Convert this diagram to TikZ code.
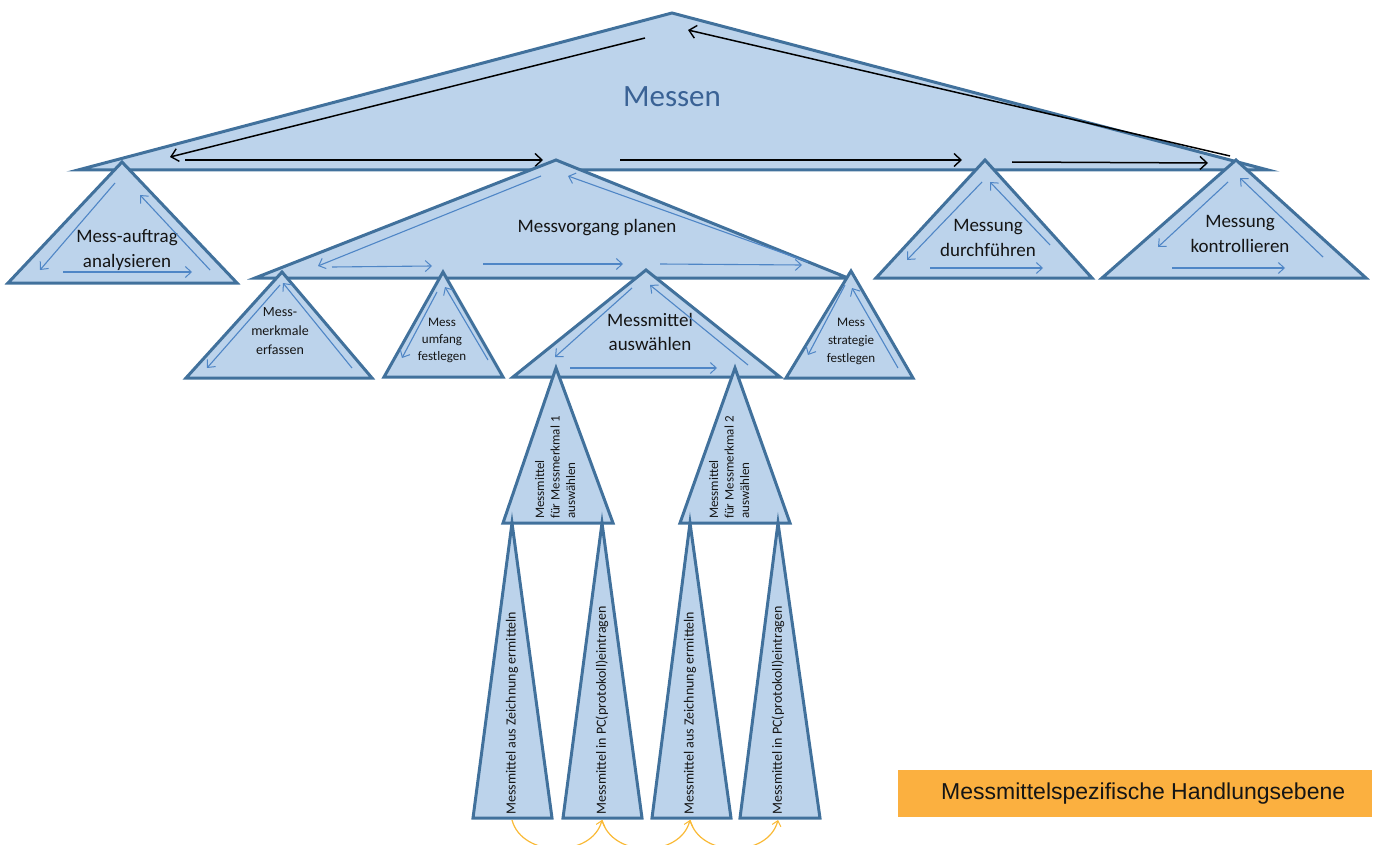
\documentclass[tikz,border=0pt]{standalone}
\usepackage{fontspec}
\setmainfont{Carlito}
\newfontfamily\boxfont{Liberation Sans}
\usetikzlibrary{arrows.meta}

\definecolor{triFill}{HTML}{BCD3EB}
\definecolor{triLine}{HTML}{41719C}
\definecolor{flowBlue}{HTML}{4F86C6}
\definecolor{levelOrange}{HTML}{FBB040}
\definecolor{linkYellow}{HTML}{F9B935}
\definecolor{titleBlue}{HTML}{3A6295}
\definecolor{labelInk}{HTML}{151515}

\begin{document}
\begin{tikzpicture}[x=1pt,y=-1pt,
  tri/.style={fill=triFill, draw=triLine, line width=3pt, line join=miter},
  mainflow/.style={draw=black, line width=1.5pt,
    -{Straight Barb[length=7pt,width=13pt,line width=1.4pt]}},
  subflow/.style={draw=flowBlue, line width=1.1pt,
    -{Straight Barb[length=6pt,width=11pt,line width=1pt]}},
  link/.style={draw=linkYellow, line width=1.2pt,
    -{Straight Barb[length=5pt,width=9pt,line width=1pt]}},
  lbl/.style={align=center, text=labelInk, inner sep=0pt},
  biglbl/.style={lbl, font=\fontsize{19}{24.5}\selectfont},
  smalllbl/.style={lbl, font=\fontsize{13}{18}\selectfont},
  vlbl/.style={rotate=90, inner sep=0pt, text=labelInk,
    font=\fontsize{14}{16}\selectfont},
]
\useasboundingbox (0,0) rectangle (1378,845);
\clip (0,0) rectangle (1378,845);

% ---------- top level: Messen ----------
\draw[tri] (672,13) -- (1268,170) -- (78,170) -- cycle;
\node[text=titleBlue, inner sep=0pt, font=\fontsize{31}{36}\selectfont] (messen) at (672,97) {Messen};
\draw[mainflow] (645,38) -- (170,157);
\draw[mainflow] (185,160) -- (543,160);
\draw[mainflow] (620,160) -- (962,160);
\draw[mainflow] (1012,162) -- (1208,163);
\draw[mainflow] (1230,156) -- (688,30);

% ---------- second level ----------
\draw[tri] (122,162) -- (237,283) -- (8,283) -- cycle;
\node[biglbl] (auftrag) at (127,250) {Mess-auftrag\\analysieren};
\draw[subflow] (115,183) -- (40,270);
\draw[subflow] (63,272) -- (192,272);
\draw[subflow] (210,270) -- (140,195);

\draw[tri] (556,160) -- (848,278) -- (255,278) -- cycle;
\node[biglbl] (planen) at (597,228) {Messvorgang planen};
\draw[subflow] (541,176) -- (318,266);
\draw[subflow] (332,267) -- (432,266);
\draw[subflow] (483,264) -- (623,264);
\draw[subflow] (660,264) -- (802,265);
\draw[subflow] (808,262) -- (568,176);

\draw[tri] (985,160) -- (1092,278) -- (876,278) -- cycle;
\node[biglbl] (durchf) at (988,238) {Messung\\durchführen};
\draw[subflow] (982,182) -- (907,260);
\draw[subflow] (930,268) -- (1043,268);
\draw[subflow] (1050,245) -- (990,182);

\draw[tri] (1236,160) -- (1366,278) -- (1102,278) -- cycle;
\node[biglbl] (kontr) at (1240,234) {Messung\\kontrollieren};
\draw[subflow] (1228,182) -- (1158,247);
\draw[subflow] (1172,268) -- (1285,268);
\draw[subflow] (1323,257) -- (1240,178);

% ---------- third level ----------
\draw[tri] (282,272) -- (372,378) -- (186,378) -- cycle;
\node[smalllbl, font=\fontsize{14}{19}\selectfont] (merkmale) at (280,331) {Mess-\\merkmale\\erfassen};
\draw[subflow] (280,285) -- (207,368);
\draw[subflow] (352,368) -- (283,283);

\draw[tri] (443,272) -- (503,377) -- (384,377) -- cycle;
\node[smalllbl, font=\fontsize{13}{17}\selectfont] (umfang) at (442,340) {Mess\\umfang\\festlegen};
\draw[subflow] (437,292) -- (402,358);
\draw[subflow] (488,360) -- (445,287);

\draw[tri] (646,270) -- (780,377) -- (513,377) -- cycle;
\node[biglbl] (auswahl) at (650,332) {Messmittel\\auswählen};
\draw[subflow] (632,288) -- (555,357);
\draw[subflow] (570,368) -- (717,368);
\draw[subflow] (748,365) -- (650,285);

\draw[tri] (851,271) -- (913,378) -- (786,378) -- cycle;
\node[smalllbl] (strategie) at (851,341) {Mess\\strategie\\festlegen};
\draw[subflow] (845,285) -- (808,355);
\draw[subflow] (898,368) -- (852,288);

% ---------- fourth level ----------
\draw[tri] (556,368) -- (613,523) -- (503,523) -- cycle;
\node[rotate=90, anchor=north west, align=left, inner sep=0pt, text=labelInk,
  font=\fontsize{13}{15.5}\selectfont] (merkmal1) at (535,519)
  {Messmittel\\für Messmerkmal 1\\auswählen};

\draw[tri] (735,368) -- (790,523) -- (680,523) -- cycle;
\node[rotate=90, anchor=north west, align=left, inner sep=0pt, text=labelInk,
  font=\fontsize{13}{15.5}\selectfont] (merkmal2) at (709,519)
  {Messmittel\\für Messmerkmal 2\\auswählen};

% ---------- fifth level: tool specific actions ----------
\draw[tri] (512,523) -- (552,818) -- (473,818) -- cycle;
\draw[tri] (602,523) -- (642,818) -- (563,818) -- cycle;
\draw[tri] (690,523) -- (731,818) -- (652,818) -- cycle;
\draw[tri] (778,523) -- (820,818) -- (740,818) -- cycle;
\node[vlbl, anchor=west] (zeich1) at (512,815) {Messmittel aus Zeichnung ermitteln};
\node[vlbl, anchor=west] (pc1) at (602,815) {Messmittel in PC(protokoll)eintragen};
\node[vlbl, anchor=west] (zeich2) at (690,815) {Messmittel aus Zeichnung ermitteln};
\node[vlbl, anchor=west] (pc2) at (778,815) {Messmittel in PC(protokoll)eintragen};

\coordinate (b1) at (512,820);
\coordinate (b2) at (602,820);
\coordinate (b3) at (690,820);
\coordinate (b4) at (778,820);
\draw[link] (b1) .. controls (522,858) and (592,858) .. (b2);
\draw[link] (b2) .. controls (612,858) and (680,858) .. (b3);
\draw[link] (b3) .. controls (700,858) and (768,858) .. (b4);

% ---------- level legend ----------
\node[fill=levelOrange, minimum width=474pt, minimum height=47pt, inner sep=0pt,
  anchor=north west] (ebene) at (898,770) {};
\node[anchor=west, inner sep=0pt, text=labelInk,
  font=\boxfont\fontsize{23}{27}\selectfont] (ebenetext) at (941,794)
  {Messmittelspezifische Handlungsebene};
\end{tikzpicture}
\end{document}
